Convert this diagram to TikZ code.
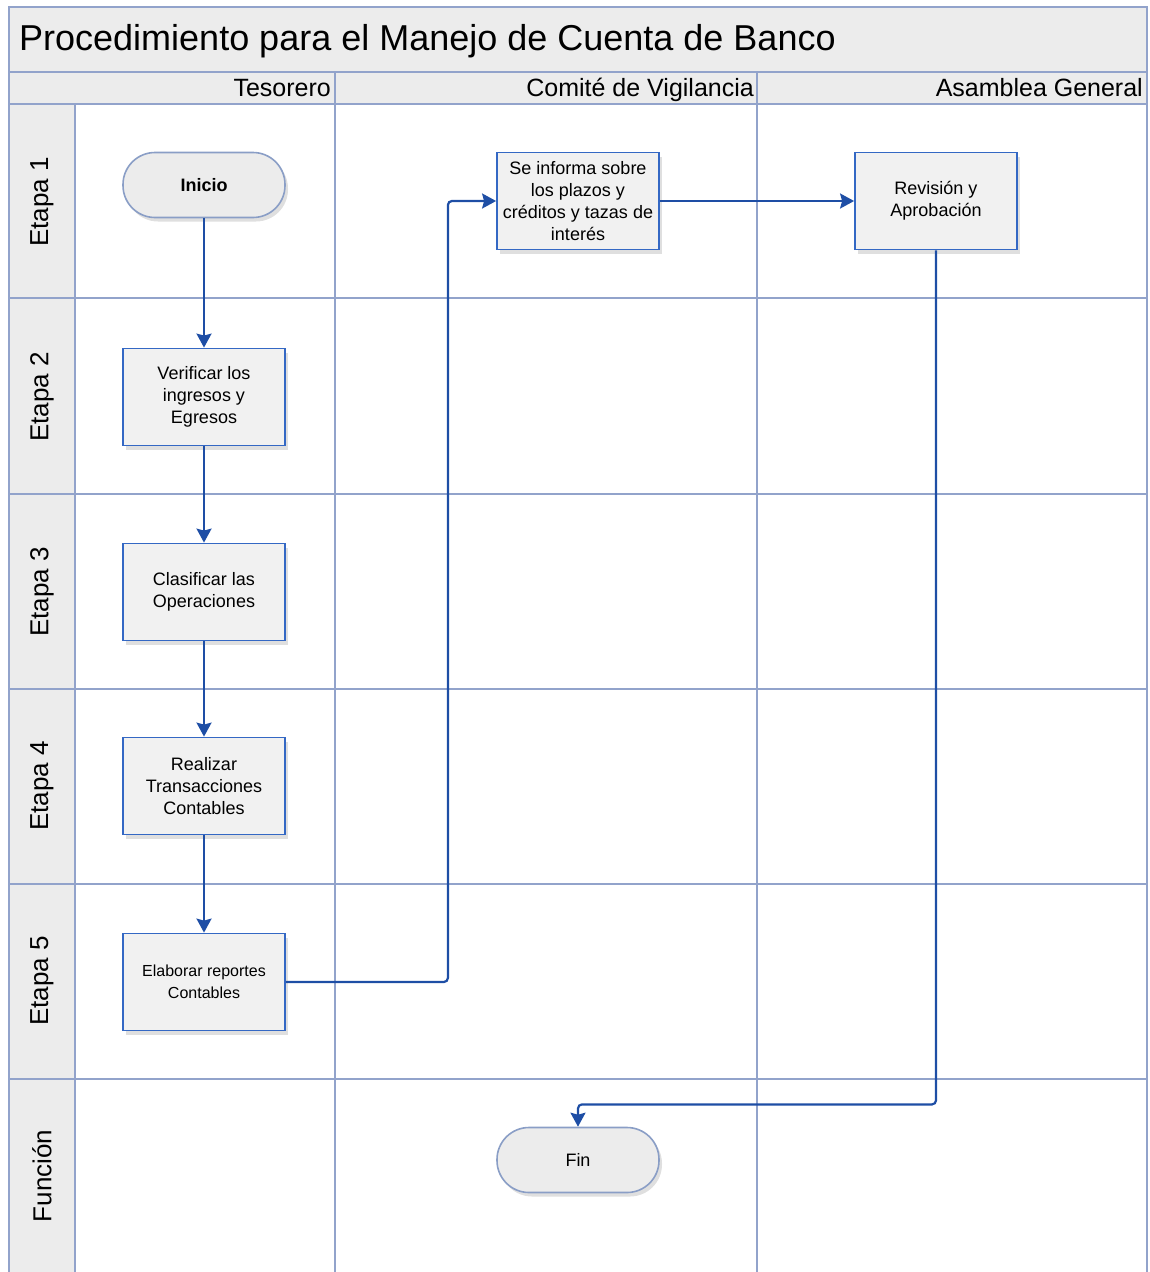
\documentclass[tikz,border=0pt]{standalone}
\usepackage{fontspec}
\setmainfont{Liberation Sans}
\usetikzlibrary{arrows.meta,shadows}

\definecolor{laneline}{RGB}{146,163,203}
\definecolor{bandfill}{RGB}{236,236,236}
\definecolor{boxline}{RGB}{52,104,196}
\definecolor{boxfill}{RGB}{241,241,241}
\definecolor{termline}{RGB}{138,158,198}
\definecolor{flowblue}{RGB}{30,78,165}

\begin{document}
\begin{tikzpicture}[
    x=1pt, y=-1pt,
    lane/.style={laneline,line width=1.6pt},
    band/.style={fill=bandfill},
    process/.style={draw=boxline,fill=boxfill,line width=1.8pt,
      minimum width=162pt,minimum height=97pt,align=center,inner sep=2pt,
      font=\fontsize{18}{22}\selectfont,
      drop shadow={opacity=0.25,shadow xshift=3pt,shadow yshift=-4pt}},
    terminal/.style={draw=termline,fill=bandfill,line width=1.6pt,
      rounded corners=32pt,minimum width=162pt,minimum height=65pt,
      font=\fontsize{18}{22}\selectfont,
      drop shadow={opacity=0.25,shadow xshift=3pt,shadow yshift=-4pt}},
    flow/.style={flowblue,line width=2.2pt,
      -{Stealth[length=14pt,width=15pt,inset=2pt]}},
    elbow/.style={flow,rounded corners=4pt},
    rowlabel/.style={rotate=90,inner sep=0pt,font=\fontsize{26}{30}\selectfont},
    colhead/.style={anchor=base east,inner sep=0pt,font=\fontsize{25}{30}\selectfont},
  ]
  \useasboundingbox (0,0) rectangle (1149,1272);

  % Bands
  \fill[band] (9,7) rectangle (1147,104);
  \fill[band] (9,104) rectangle (75,1272);

  % Grid
  \draw[lane] (9,1272) -- (9,7) -- (1147,7) -- (1147,1272);
  \foreach \y in {72,104,298,494,689,884,1079}
    \draw[lane] (9,\y) -- (1147,\y);
  \foreach \x in {335,757}
    \draw[lane] (\x,72) -- (\x,1272);
  \draw[lane] (75,104) -- (75,1272);

  % Title and lane headers
  \node[anchor=base west,inner sep=0pt,font=\fontsize{36}{40}\selectfont] (title)
    at (19,50) {Procedimiento para el Manejo de Cuenta de Banco};
  \node[colhead] (tesorero) at (331,96) {Tesorero};
  \node[colhead] (comite) at (754,96) {Comité de Vigilancia};
  \node[colhead] (asamblea) at (1143,96) {Asamblea General};

  % Row labels
  \foreach \i/\y in {1/202, 2/397, 3/592, 4/786, 5/981}
    \node[rowlabel] (etapa\i) at (42,\y) {Etapa \i};
  \node[rowlabel] (funcion) at (42,1176) {Función};

  % Steps
  \node[terminal] (inicio) at (204,185) {\bfseries Inicio};
  \node[process] (verificar) at (204,397) {Verificar los\\ingresos y\\Egresos};
  \node[process] (clasificar) at (204,592) {Clasificar las\\Operaciones};
  \node[process] (realizar) at (204,786) {Realizar\\Transacciones\\Contables};
  \node[process,font=\fontsize{16}{22}\selectfont] (elaborar) at (204,982)
    {Elaborar reportes\\Contables};
  \node[process] (informa) at (578,201)
    {Se informa sobre\\los plazos y\\créditos y tazas de\\interés};
  \node[process] (revision) at (936,201) {Revisión y\\Aprobación};
  \node[terminal] (fin) at (578,1160) {Fin};

  % Flow
  \draw[flow] (inicio) -- (verificar);
  \draw[flow] (verificar) -- (clasificar);
  \draw[flow] (clasificar) -- (realizar);
  \draw[flow] (realizar) -- (elaborar);
  \draw[elbow] (elaborar.east) -- ++(162,0) |- (informa.west);
  \draw[flow] (informa) -- (revision);
  \draw[elbow] (revision.south) -- ++(0,854) -| (fin.north);
\end{tikzpicture}
\end{document}
